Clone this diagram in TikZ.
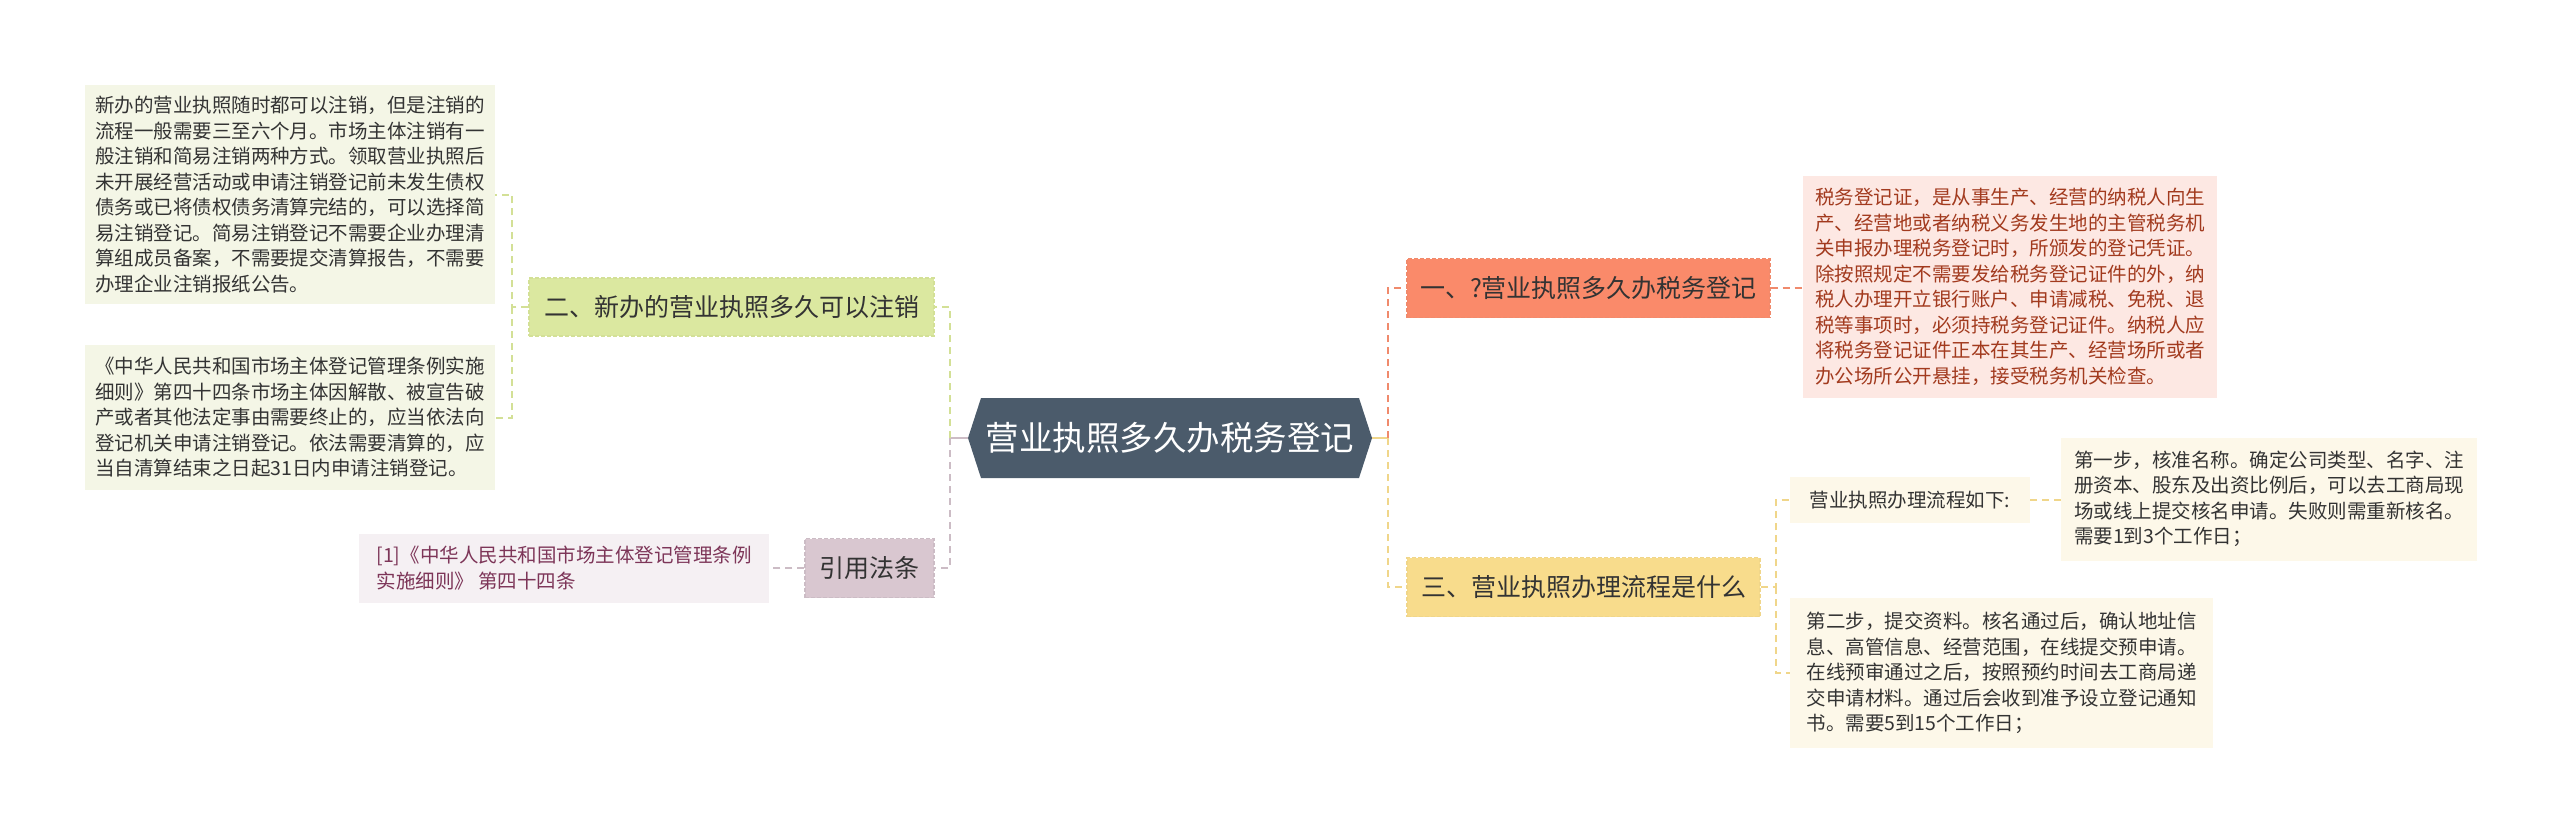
\documentclass[tikz,border=0pt]{standalone}
\usepackage{fontspec}
\setmainfont{Noto Sans CJK SC}
\newcommand{\leaffont}{\fontsize{19.5}{25.5}\selectfont}
\newcommand{\branchfont}{\fontsize{25}{30}\selectfont}
\newcommand{\rootfont}{\fontsize{33.5}{40}\selectfont}

\definecolor{rootfill}{HTML}{4B5B6B}
\definecolor{inktext}{HTML}{333333}
\definecolor{greenfill}{HTML}{DBE8A0}
\definecolor{greenline}{HTML}{D3E096}
\definecolor{greenleaf}{HTML}{F4F6E6}
\definecolor{mauvefill}{HTML}{D9C7D0}
\definecolor{mauveline}{HTML}{CCBCC5}
\definecolor{mauveleaf}{HTML}{F5F0F3}
\definecolor{mauvetext}{HTML}{7D3558}
\definecolor{orangefill}{HTML}{FA8A6A}
\definecolor{orangeline}{HTML}{F08A6C}
\definecolor{orangeleaf}{HTML}{FDE8E3}
\definecolor{orangetext}{HTML}{A23A1E}
\definecolor{yellowfill}{HTML}{F8DC8C}
\definecolor{yellowline}{HTML}{F0D68A}
\definecolor{yellowleaf}{HTML}{FDF8E9}

\begin{document}
\begin{tikzpicture}[x=1pt, y=-1pt,
    leaf/.style={font=\leaffont, align=left, inner sep=0pt, text=inktext},
    branch/.style={font=\branchfont, inner sep=0pt, text=inktext,
        dashed, dash pattern=on 4pt off 2pt, line width=1.2pt},
    conn/.style={line width=2pt, dash pattern=on 7pt off 5pt},
    stub/.style={line width=2.5pt}]
    \useasboundingbox (0,0) rectangle (2560,831);
    \fill[white] (0,0) rectangle (2560,831);

    % Root
    \fill[rootfill] (968,438) -- (981,398) -- (1359,398) -- (1372,438)
        -- (1359,478) -- (981,478) -- cycle;
    \node[font=\rootfont, text=white, minimum width=404pt, minimum height=80pt,
        inner sep=0pt] (root) at (1170,438) {营业执照多久办税务登记};

    % Left side
    \node[branch, fill=greenfill, draw=greenline, minimum width=405pt,
        minimum height=58pt] (br2) at (731.5,307) {二、新办的营业执照多久可以注销};
    \node[leaf, fill=greenleaf, minimum width=410pt, minimum height=219pt]
        (leafA) at (290,194.5) {新办的营业执照随时都可以注销，但是注销的\\
        流程一般需要三至六个月。市场主体注销有一\\
        般注销和简易注销两种方式。领取营业执照后\\
        未开展经营活动或申请注销登记前未发生债权\\
        债务或已将债权债务清算完结的，可以选择简\\
        易注销登记。简易注销登记不需要企业办理清\\
        算组成员备案，不需要提交清算报告，不需要\\
        办理企业注销报纸公告。};
    \node[leaf, fill=greenleaf, minimum width=410pt, minimum height=145pt]
        (leafB) at (290,417.5) {《中华人民共和国市场主体登记管理条例实施\\
        细则》第四十四条市场主体因解散、被宣告破\\
        产或者其他法定事由需要终止的，应当依法向\\
        登记机关申请注销登记。依法需要清算的，应\\
        当自清算结束之日起31日内申请注销登记。};
    \node[branch, fill=mauvefill, draw=mauveline, minimum width=129pt,
        minimum height=59pt] (cite) at (869.5,568) {引用法条};
    \node[leaf, text=mauvetext, fill=mauveleaf, minimum width=410pt,
        minimum height=69pt] (ref) at (564,568)
        {[1]《中华人民共和国市场主体登记管理条例\\实施细则》 第四十四条};

    \coordinate (jl) at (950,438);
    \coordinate (jg) at (512,307);
    \draw[stub, mauveline] (root.west) -- (jl);
    \draw[conn, greenline] (jl) |- (br2.east);
    \draw[conn, mauveline] (jl) |- (cite.east);
    \draw[conn, greenline] (br2.west) -- (jg) |- (leafA.east);
    \draw[conn, greenline] (jg) |- (leafB.east);
    \draw[conn, mauveline] (cite.west) -- (ref.east);

    % Right side
    \node[branch, fill=orangefill, draw=orangeline, minimum width=363pt,
        minimum height=59pt] (br1) at (1588.5,288) {一、?营业执照多久办税务登记};
    \node[leaf, text=orangetext, fill=orangeleaf, minimum width=414pt,
        minimum height=222pt] (leafC) at (2010,287) {税务登记证，是从事生产、经营的纳税人向生\\
        产、经营地或者纳税义务发生地的主管税务机\\
        关申报办理税务登记时，所颁发的登记凭证。\\
        除按照规定不需要发给税务登记证件的外，纳\\
        税人办理开立银行账户、申请减税、免税、退\\
        税等事项时，必须持税务登记证件。纳税人应\\
        将税务登记证件正本在其生产、经营场所或者\\
        办公场所公开悬挂，接受税务机关检查。};
    \node[branch, fill=yellowfill, draw=yellowline, minimum width=353pt,
        minimum height=59pt] (br3) at (1583.5,587) {三、营业执照办理流程是什么};
    \node[leaf, fill=yellowleaf, minimum width=240pt, minimum height=46pt]
        (flow) at (1910,500) {营业执照办理流程如下:};
    \node[leaf, fill=yellowleaf, minimum width=416pt, minimum height=123pt]
        (step1) at (2269,499) {第一步，核准名称。确定公司类型、名字、注\\
        册资本、股东及出资比例后，可以去工商局现\\
        场或线上提交核名申请。失败则需重新核名。\\
        需要1到3个工作日；};
    \node[leaf, fill=yellowleaf, minimum width=423pt, minimum height=150pt]
        (step2) at (2001.5,673) {第二步，提交资料。核名通过后，确认地址信\\
        息、高管信息、经营范围，在线提交预申请。\\
        在线预审通过之后，按照预约时间去工商局递\\
        交申请材料。通过后会收到准予设立登记通知\\
        书。需要5到15个工作日；};

    \coordinate (jr) at (1388,438);
    \coordinate (jy) at (1776,587);
    \draw[stub, yellowline] (root.east) -- (jr);
    \draw[conn, orangeline] (jr) |- (br1.west);
    \draw[conn, yellowline] (jr) |- (br3.west);
    \draw[conn, orangeline] (br1.east) -- (br1.east -| leafC.west);
    \draw[conn, yellowline] (br3.east) -- (jy) |- (flow.west);
    \draw[conn, yellowline] (jy) |- (step2.west);
    \draw[conn, yellowline] (flow.east) -- (flow.east -| step1.west);
\end{tikzpicture}
\end{document}
